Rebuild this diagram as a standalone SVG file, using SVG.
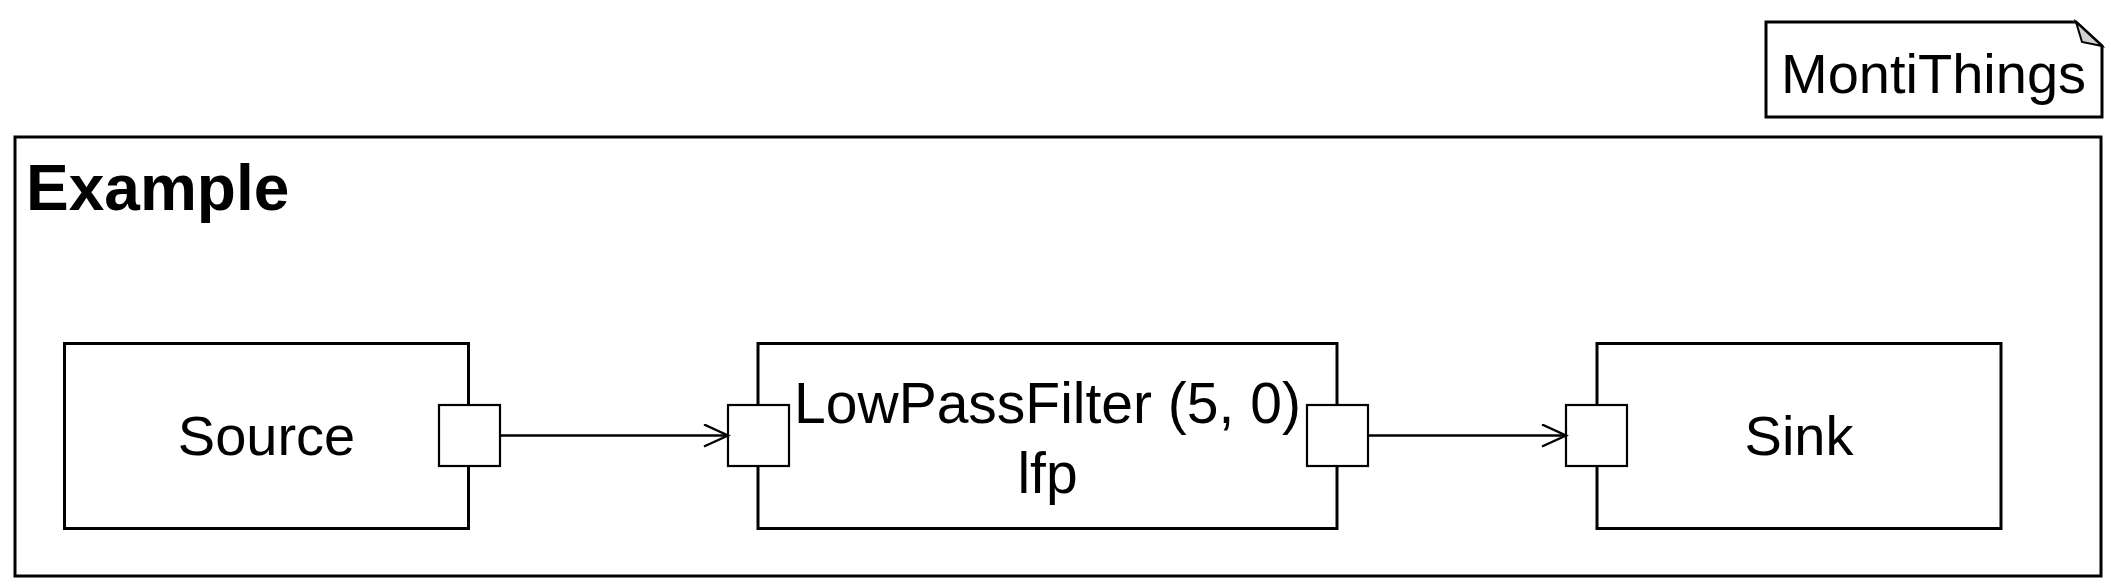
<svg xmlns="http://www.w3.org/2000/svg" width="2111" height="588" viewBox="0 0 2111 588">
<defs>
<style>
.box{fill:#fff;stroke:#000;stroke-width:3}
.port{fill:#fff;stroke:#000;stroke-width:2.2}
.lbl{font-family:"Liberation Sans",Arial,sans-serif;font-size:56px;fill:#000;text-anchor:middle}
.conn{stroke:#000;stroke-width:2.4;fill:none}
</style>
<marker id="arr" markerWidth="28" markerHeight="28" refX="25" refY="12" orient="auto" markerUnits="userSpaceOnUse">
<path d="M1,1 L25,12 L1,23" fill="none" stroke="#000" stroke-width="2.4"/>
</marker>
</defs>
<rect width="2111" height="588" fill="#fff"/>
<g id="montithings">
<path d="M1766,22 H2076 L2102,46 V117 H1766 Z" class="box"/>
<path d="M2076,22 L2082,42 L2102,46 Z" fill="#d0d0d0" stroke="#000" stroke-width="2"/>
<text x="1781" y="93" class="lbl" style="text-anchor:start">MontiThings</text>
</g>
<g id="example">
<rect x="15" y="137" width="2086" height="439" class="box" fill="none"/>
<text x="26" y="210" style="font-family:'Liberation Sans',Arial,sans-serif;font-size:64px;font-weight:bold">Example</text>
</g>
<g id="source">
<rect x="64.5" y="343.5" width="404" height="185" class="box"/>
<text x="266.5" y="455" class="lbl">Source</text>
<rect x="439" y="405" width="61" height="61" class="port"/>
</g>
<g id="lfp">
<rect x="758" y="343.5" width="579" height="185" class="box"/>
<text x="1047.5" y="423" class="lbl" style="font-size:57px">LowPassFilter (5, 0)</text>
<text x="1047.5" y="493" class="lbl" style="font-size:57px">lfp</text>
<rect x="728" y="405" width="61" height="61" class="port"/>
<rect x="1307" y="405" width="61" height="61" class="port"/>
</g>
<g id="sink">
<rect x="1597" y="343.5" width="404" height="185" class="box"/>
<text x="1799" y="455" class="lbl">Sink</text>
<rect x="1566" y="405" width="61" height="61" class="port"/>
</g>
<g id="connectors">
<line x1="500" y1="435.5" x2="728" y2="435.5" class="conn" marker-end="url(#arr)"/>
<line x1="1368" y1="435.5" x2="1566" y2="435.5" class="conn" marker-end="url(#arr)"/>
</g>
</svg>
